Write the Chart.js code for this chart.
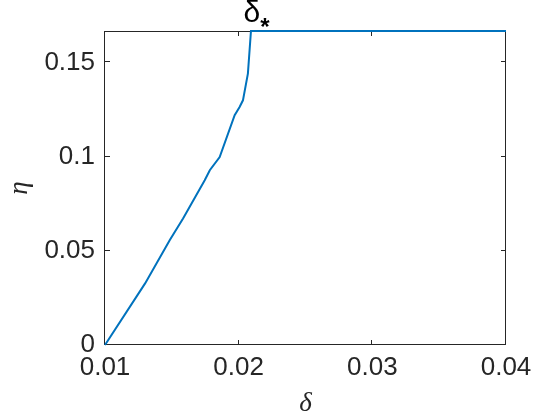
<!DOCTYPE html>
<html>
<head>
<meta charset="utf-8">
<script src="https://cdn.jsdelivr.net/npm/chart.js@4"></script>
<style>
body { margin: 0; background: #fff; }
</style>
</head>
<body>
<canvas id="chart" width="560" height="420"></canvas>
<script>
// data
const delta = [0.01, 0.0130, 0.01485, 0.01584, 0.01746, 0.01784, 0.01858, 0.0197, 0.02007, 0.02032, 0.02069, 0.02092, 0.04]
const eta = [0, 0.0327, 0.0557, 0.0672, 0.0875, 0.0928, 0.0998, 0.1220, 0.1264, 0.1299, 0.1441, 0.1667, 0.1667]

const xTicks = [0.01, 0.02, 0.03, 0.04]
const yTicks = [0, 0.05, 0.1, 0.15]
const xLabels = ["0.01", "0.02", "0.03", "0.04"]
const yLabels = ["0", "0.05", "0.1", "0.15"]

const xMin = 0.01, xMax = 0.04
const yMin = 0, yMax = 0.1667
const deltaStar = 0.02092

const ink = "#262626"
const tickFont = { family: "Liberation Sans", size: 26 }

// box around the axes + ticks pointing inward (matlab style)
const boxPlugin = {
  id: "box",
  beforeDatasetsDraw(chart) {
    const ctx = chart.ctx
    const a = chart.chartArea
    const xs = chart.scales.x, ys = chart.scales.y
    ctx.save()
    ctx.strokeStyle = ink
    ctx.lineWidth = 1
    ctx.strokeRect(a.left - 0.5, a.top + 0.5, a.right - a.left, a.bottom - a.top - 1)
    ctx.beginPath()
    for (const v of xTicks) {
      const px = Math.round(xs.getPixelForValue(v)) - 0.5
      ctx.moveTo(px, a.bottom); ctx.lineTo(px, a.bottom - 5)
      ctx.moveTo(px, a.top); ctx.lineTo(px, a.top + 5)
    }
    for (const v of yTicks) {
      const py = Math.round(ys.getPixelForValue(v)) - 0.5
      ctx.moveTo(a.left, py); ctx.lineTo(a.left + 5, py)
      ctx.moveTo(a.right, py); ctx.lineTo(a.right - 5, py)
    }
    ctx.stroke()
    ctx.restore()
  },
  afterDraw(chart) {
    const ctx = chart.ctx
    const px = chart.scales.x.getPixelForValue(deltaStar) + 1
    ctx.save()
    ctx.fillStyle = "#000"
    ctx.font = "30px 'Liberation Sans'"
    ctx.textAlign = "center"
    ctx.textBaseline = "alphabetic"
    ctx.fillText("δ", px, 22)
    const w = ctx.measureText("δ").width
    ctx.font = "bold 24px 'Liberation Sans'"
    ctx.textAlign = "left"
    ctx.fillText("*", px + w / 2, 35)
    ctx.restore()
  }
}

const ctx = document.getElementById("chart").getContext("2d")

new Chart(ctx, {
  type: "line",
  data: {
    datasets: [{
      data: delta.map((d, i) => ({ x: d, y: eta[i] })),
      borderColor: "#0072BD",
      borderWidth: 2,
      pointRadius: 0,
      tension: 0,
      clip: false
    }]
  },
  options: {
    responsive: false,
    animation: false,
    layout: { padding: { left: 0, right: 54, top: 31, bottom: 0 } },
    plugins: { legend: { display: false }, tooltip: { enabled: false } },
    scales: {
      x: {
        type: "linear",
        min: xMin, max: xMax,
        afterFit(s) { s.height = 75 },
        afterBuildTicks(s) { s.ticks = xTicks.map(v => ({ value: v })) },
        grid: { display: false, drawTicks: false },
        border: { display: false },
        ticks: {
          color: ink, font: tickFont, padding: 7, maxRotation: 0, autoSkip: false,
          callback: (v) => xLabels[xTicks.indexOf(v)]
        },
        title: {
          display: true, text: "δ", color: ink,
          font: { family: "Liberation Serif", size: 27, style: "italic" },
          padding: { top: 0, bottom: 0 }
        }
      },
      y: {
        type: "linear",
        min: yMin, max: yMax,
        afterFit(s) { s.width = 105 },
        afterBuildTicks(s) { s.ticks = yTicks.map(v => ({ value: v })) },
        grid: { display: false, drawTicks: false },
        border: { display: false },
        ticks: {
          color: ink, font: tickFont, padding: 10, autoSkip: false,
          callback: (v) => yLabels[yTicks.indexOf(v)]
        },
        title: {
          display: true, text: "η", color: ink,
          font: { family: "Liberation Serif", size: 27, style: "italic" },
          padding: { top: 4, bottom: 0 }
        }
      }
    }
  },
  plugins: [boxPlugin]
})
</script>
</body>
</html>
